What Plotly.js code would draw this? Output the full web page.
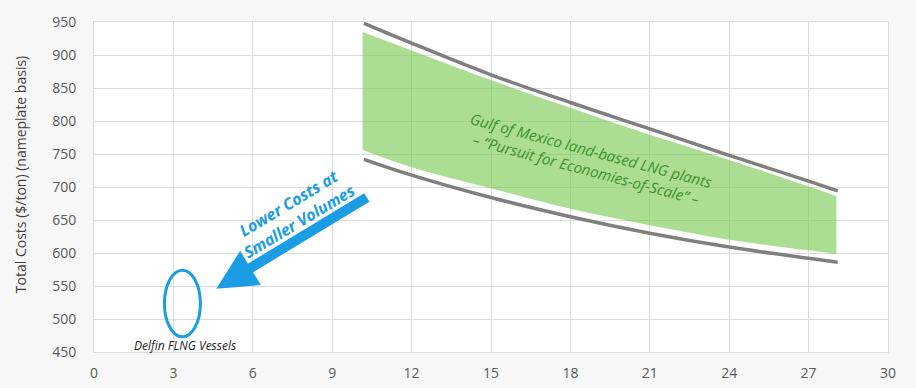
<!DOCTYPE html>
<html>
<head>
<meta charset="utf-8">
<script src="https://cdn.plot.ly/plotly-3.0.1.min.js"></script>
<style>html,body{margin:0;padding:0;background:#f7f7f7;}#chart{width:916px;height:388px;}</style>
</head>
<body>
<div id="chart"></div>
<script>
// Gray boundary curves (capacity in MTPA vs $/ton)
const upperX = [10.2, 12, 15, 18, 21, 24, 27, 28.1];
const upperY = [948, 918, 870, 828, 788, 748, 709, 694];
const lowerX = [10.2, 12, 15, 18, 21, 24, 27, 28.1];
const lowerY = [742, 718, 684, 655, 630, 609, 592, 586];
// Green band (Gulf of Mexico land-based LNG plants)
const bandX = [10.15, 12, 15, 18, 21, 24, 27, 28.05];
const bandTop = [935, 907, 862, 820, 779, 741, 701, 686];
const bandBottom = [756, 730, 698, 667, 642, 620, 604, 598];
// Delfin FLNG ellipse
const delfinX = [2.66, 4.02];
const delfinY = [473, 574];
const xTicks = [0, 3, 6, 9, 12, 15, 18, 21, 24, 27, 30];
const yTicks = [450, 500, 550, 600, 650, 700, 750, 800, 850, 900, 950];

const grey = '#7f7f7f';
const blue = '#1a9de4';

const traces = [
  {
    x: bandX, y: bandTop, type: 'scatter', mode: 'lines',
    line: {width: 0, color: 'rgba(0,0,0,0)', shape: 'spline', smoothing: 1},
    hoverinfo: 'skip', showlegend: false
  },
  {
    x: bandX, y: bandBottom, type: 'scatter', mode: 'lines', fill: 'tonexty',
    fillcolor: 'rgba(115,200,75,0.6)',
    line: {width: 0, color: 'rgba(0,0,0,0)', shape: 'spline', smoothing: 1},
    hoverinfo: 'skip', showlegend: false
  },
  {
    x: upperX, y: upperY, type: 'scatter', mode: 'lines',
    line: {color: grey, width: 3.5, shape: 'spline', smoothing: 1}, showlegend: false
  },
  {
    x: lowerX, y: lowerY, type: 'scatter', mode: 'lines',
    line: {color: grey, width: 3.5, shape: 'spline', smoothing: 1}, showlegend: false
  }
];

const layout = {
  width: 916, height: 388,
  margin: {l: 94, r: 28, t: 22, b: 36},
  paper_bgcolor: '#f7f7f7',
  plot_bgcolor: '#ffffff',
  font: {family: 'Open Sans, sans-serif', color: '#595959'},
  showlegend: false,
  xaxis: {
    range: [0, 30], tickvals: xTicks, ticktext: xTicks.map(String),
    showgrid: true, gridcolor: '#dcdcdc', gridwidth: 1, zeroline: false,
    showline: true, linecolor: '#dcdcdc', mirror: true,
    ticks: 'outside', ticklen: 8, tickcolor: 'rgba(0,0,0,0)',
    tickfont: {size: 14, color: '#595959'}
  },
  yaxis: {
    range: [450, 950], tickvals: yTicks, ticktext: yTicks.map(String),
    showgrid: true, gridcolor: '#dcdcdc', gridwidth: 1, zeroline: false,
    showline: true, linecolor: '#dcdcdc', mirror: true,
    ticks: 'outside', ticklen: 14, tickcolor: 'rgba(0,0,0,0)',
    tickfont: {size: 14, color: '#595959'}
  },
  shapes: [
    {type: 'circle', xref: 'x', yref: 'y', x0: delfinX[0], x1: delfinX[1], y0: delfinY[0], y1: delfinY[1],
     line: {color: blue, width: 3}}
  ],
  annotations: [
    {x: -0.0932, y: 0.539, xref: 'paper', yref: 'paper', xanchor: 'center', yanchor: 'middle',
     showarrow: false, textangle: -90,
     text: 'Total Costs ($/ton) (nameplate basis)', font: {size: 14, color: '#404040'}},
    {x: 18.7, y: 741, xref: 'x', yref: 'y', showarrow: false, textangle: 15,
     text: '<i>Gulf of Mexico land-based LNG plants<br>– “Pursuit for Economies-of-Scale” –</i>',
     font: {size: 15, color: '#3f8f2f'}, align: 'center'},
    {x: 4.62, y: 546, xref: 'x', yref: 'y', ax: 152, ay: -92, axref: 'pixel', ayref: 'pixel',
     showarrow: true, arrowhead: 2, arrowsize: 0.8, arrowwidth: 10, arrowcolor: blue, text: ''},
    {x: 7.55, y: 661, xref: 'x', yref: 'y', showarrow: false, textangle: -31,
     text: '<b><i>Lower Costs at<br>Smaller Volumes</i></b>',
     font: {size: 16, color: blue}, align: 'center'},
    {x: 3.43, y: 460, xref: 'x', yref: 'y', showarrow: false,
     text: '<i>Delfin FLNG Vessels</i>', font: {size: 12, color: '#222222'}}
  ]
};

Plotly.newPlot('chart', traces, layout, {displayModeBar: false, staticPlot: true});
</script>
</body>
</html>
